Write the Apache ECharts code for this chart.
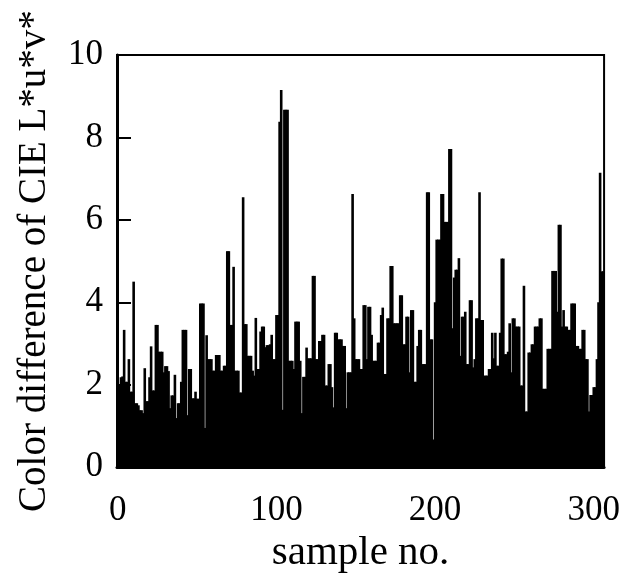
<!DOCTYPE html>
<html>
<head>
  <meta charset="UTF-8" />
  <script src="https://cdn.jsdelivr.net/npm/echarts@6/dist/echarts.min.js"></script>
  <style>
    body { margin: 0; padding: 0; background: #ffffff; }
    #main { width: 623px; height: 579px; }
  </style>
</head>
<body>
  <div id="main"></div>
  <script>
    // colour difference per sample
    const diffA = [
      1.07, 1.98, 2.18, 2.2, 3.33, 2.07, 2.07, 2.62, 1.83, 1.83,
      4.5, 1.55, 1.55, 1.5, 1.38, 1.38, 1.31, 2.4, 1.6, 1.6,
      2.18, 2.93, 1.86, 1.86, 3.45, 3.45, 2.8, 2.8, 2.8, 2.3,
      2.45, 2.45, 2.33, 1.43, 1.74, 1.74, 2.24, 1.19, 1.55, 1.55,
      2.07, 3.33, 3.33, 3.33, 1.26, 2.38, 2.38, 1.67, 1.67, 1.83,
      1.66, 1.66, 3.97, 3.97, 3.97, 0.95, 3.2, 2.62, 2.62, 2.62,
      2.34, 2.34, 2.72, 2.72, 2.72, 2.34, 2.34, 2.46, 2.46, 5.24,
      5.24, 3.45, 3.45, 4.86, 2.34, 2.34, 2.34, 1.81, 1.81, 6.55,
      3.47, 3.47, 2.7, 2.7, 2.7, 2.34, 2.22, 3.62, 2.38, 2.38,
      3.29, 3.41, 3.41, 2.91, 2.96, 2.96, 2.98, 3.21, 2.62, 2.62
    ];
    const diffB = [
      3.69, 3.69, 8.38, 9.15, 1.39, 8.67, 8.67, 8.67, 2.58, 2.58,
      2.58, 2.38, 3.53, 3.53, 3.53, 2.58, 1.31, 2.19, 2.19, 2.9,
      2.64, 2.64, 2.64, 4.64, 4.64, 2.62, 2.62, 3.06, 3.06, 3.21,
      3.21, 1.98, 1.98, 2.5, 2.5, 1.94, 1.45, 3.26, 3.26, 3.1,
      3.1, 3.1, 2.94, 2.94, 1.43, 2.3, 2.3, 2.3, 6.63, 3.61,
      2.62, 2.62, 2.62, 2.38, 2.38, 3.93, 3.93, 2.62, 3.89, 3.89,
      3.21, 2.58, 2.58, 2.58, 3.02, 3.02, 3.69, 3.87, 2.26, 2.26,
      3.61, 3.61, 4.88, 4.88, 3.49, 3.49, 3.49, 3.49, 4.17, 4.17,
      2.98, 2.98, 3.65, 3.65, 2.3, 3.81, 3.81, 2.07, 2.07, 2.94,
      3.33, 3.33, 2.5, 2.5, 2.5, 6.67, 6.67, 3.1, 3.1, 0.67
    ];
    const diffC = [
      4.0, 5.52, 5.52, 5.52, 6.63, 6.63, 5.95, 5.95, 5.95, 7.72,
      7.72, 3.37, 4.6, 4.79, 4.79, 5.07, 2.7, 3.65, 3.65, 3.77,
      2.5, 2.5, 4.05, 4.05, 2.42, 2.62, 3.61, 3.61, 6.67, 3.57,
      3.57, 2.22, 2.22, 2.22, 2.38, 2.38, 3.26, 2.64, 3.26, 2.46,
      2.46, 3.26, 5.06, 5.06, 2.74, 2.74, 2.8, 3.49, 2.3, 3.61,
      3.61, 3.41, 3.41, 3.41, 1.98, 1.98, 4.4, 1.35, 1.35, 2.78,
      2.78, 2.98, 2.98, 3.41, 3.41, 3.41, 3.61, 3.61, 1.9, 1.9,
      1.9, 2.87, 2.87, 2.87, 4.76, 4.76, 4.76, 3.77, 5.88, 5.88,
      3.41, 3.81, 3.41, 3.41, 3.33, 3.33, 3.97, 3.97, 3.97, 2.94,
      2.94, 2.87, 2.87, 3.33, 3.33, 2.62, 2.62, 1.35, 1.75, 1.75,
      1.94, 1.94, 2.62, 4.0, 7.14, 4.75, 4.75
    ];
    const colorDiff = diffA.concat(diffB, diffC);
    const sampleNo = colorDiff.map((_, i) => String(i));
    const xTickLabels = ['0', '100', '200', '300'];
    const yTicks = [0, 2, 4, 6, 8, 10];

    const serif = "'Liberation Serif', 'Times New Roman', serif";
    const chart = echarts.init(document.getElementById('main'));

    chart.setOption({
      backgroundColor: '#ffffff',
      animation: false,
      grid: {
        left: 117, right: 10, top: 55, bottom: 103,
        show: true, borderColor: '#000', borderWidth: 2,
        containLabel: false
      },
      xAxis: {
        type: 'category',
        data: sampleNo,
        name: 'sample no.',
        nameLocation: 'middle',
        nameGap: 62,
        nameTextStyle: { fontFamily: serif, fontSize: 41, color: '#000' },
        axisLine: { lineStyle: { color: '#000', width: 3 } },
        axisTick: { show: false },
        axisLabel: {
          interval: (i) => xTickLabels.includes(sampleNo[i]),
          fontFamily: serif, fontSize: 35, color: '#000', margin: 26
        },
        splitLine: { show: false }
      },
      yAxis: {
        type: 'value',
        min: yTicks[0],
        max: yTicks[yTicks.length - 1],
        interval: 2,
        name: 'Color difference of CIE L*u*v*',
        nameLocation: 'middle',
        nameGap: 63,
        nameTextStyle: { fontFamily: serif, fontSize: 39, color: '#000' },
        axisLine: { show: true, lineStyle: { color: '#000', width: 3 } },
        axisTick: { show: true, inside: true, length: 14, lineStyle: { color: '#000', width: 2 } },
        axisLabel: { fontFamily: serif, fontSize: 35, color: '#000', margin: 14 },
        splitLine: { show: false }
      },
      series: [{
        type: 'bar',
        data: colorDiff,
        barWidth: 2.6,
        itemStyle: { color: '#000' },
        z: 1
      }]
    });
  </script>
</body>
</html>
